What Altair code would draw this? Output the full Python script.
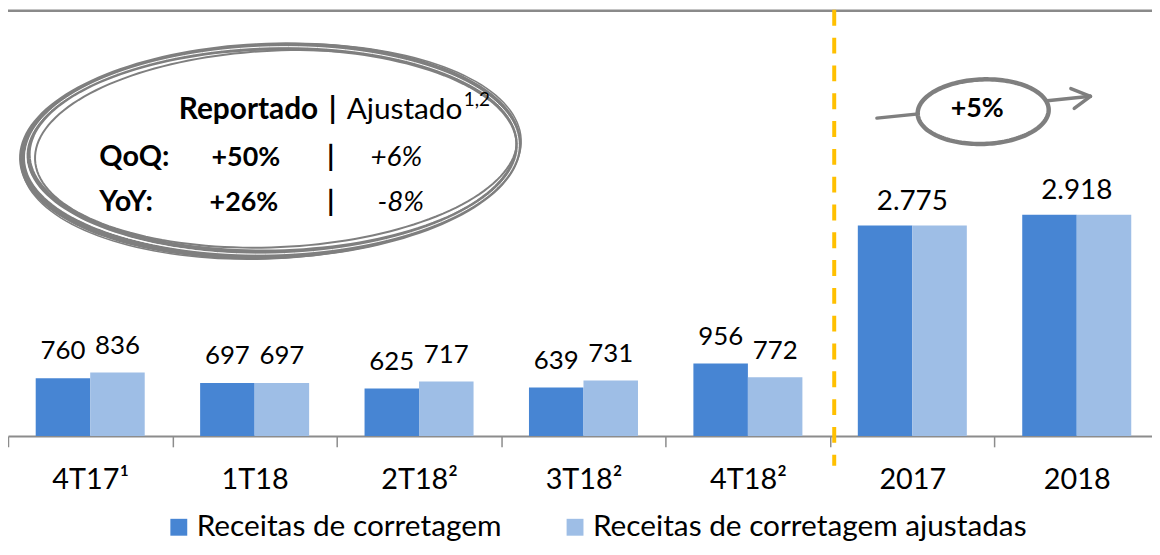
import math
import altair as alt
import pandas as pd

# ---------------- data ----------------
periods = ["4T17¹", "1T18", "2T18²", "3T18²", "4T18²", "2017", "2018"]
reported = [760, 697, 625, 639, 956, 2775, 2918]
adjusted = [836, 697, 717, 731, 772, 2775, 2918]
annual_periods = ["2017", "2018"]
series_names = ["Receitas de corretagem", "Receitas de corretagem ajustadas"]
series_colors = ["#4785D3", "#9EBEE6"]

FONT = "Lato"
W, H = 1152, 429
STEP = 1159 / len(periods)


def fmt(v):
    return f"{v:,}".replace(",", ".")


rows = []
for p, r, a in zip(periods, reported, adjusted):
    rows.append({"period": p, "series": series_names[0], "value": r, "label": fmt(r)})
    rows.append({"period": p, "series": series_names[1], "value": a, "label": fmt(a)})
df = pd.DataFrame(rows)
df_q = df[~df["period"].isin(annual_periods)]
df_a = df[(df["period"].isin(annual_periods)) & (df["series"] == series_names[0])]

one = pd.DataFrame({"k": [0]})

xenc = alt.X(
    "period:N",
    sort=periods,
    scale=alt.Scale(range=[0, 1159], paddingInner=0.337, paddingOuter=0.1685),
    axis=alt.Axis(
        title=None, labelAngle=0, ticks=True, tickSize=11,
        tickOffset=-STEP / 2, labelOffset=STEP / 2,
        tickColor="#8c8c8c", tickWidth=1.5, domainColor="#8c8c8c", domainWidth=2,
        labelFont=FONT, labelFontSize=29, labelColor="#000000",
        labelBaseline="alphabetic", labelPadding=42,
    ),
)
yenc = alt.Y("value:Q", scale=alt.Scale(domain=[0, 5620], nice=False), axis=None)
color = alt.Color(
    "series:N",
    scale=alt.Scale(domain=series_names, range=series_colors),
    legend=alt.Legend(
        title=None, orient="none", legendX=157, legendY=506, direction="horizontal",
        symbolType="square", symbolSize=289, symbolStrokeWidth=0, symbolOpacity=1,
        labelFont=FONT, labelFontSize=30, labelColor="#000000", labelOffset=3,
        columnPadding=59, padding=0, labelLimit=600,
    ),
)

bars = alt.Chart(df).mark_bar().encode(
    x=xenc, y=yenc,
    xOffset=alt.XOffset("series:N", sort=series_names),
    color=color,
)

qlabels = alt.Chart(df_q).mark_text(
    font=FONT, fontSize=26, baseline="alphabetic", dy=-19, color="#000000"
).encode(
    x=alt.X("period:N", sort=periods), y="value:Q",
    xOffset=alt.XOffset("series:N", sort=series_names), text="label:N",
)

alabels = alt.Chart(df_a).mark_text(
    font=FONT, fontSize=28, baseline="alphabetic", dy=-16, color="#000000"
).encode(x=alt.X("period:N", sort=periods), y="value:Q", text="label:N")


# ---------------- decorations ----------------
def ellipse_path(ratio, rot_deg, n=160):
    r = math.radians(rot_deg)
    pts = []
    for i in range(n):
        t = 2 * math.pi * i / n
        x, y = math.cos(t), ratio * math.sin(t)
        xr = x * math.cos(r) - y * math.sin(r)
        yr = x * math.sin(r) + y * math.cos(r)
        pts.append(f"{xr:.4f},{yr:.4f}")
    return "M" + " L".join(pts) + " Z"


def ellipse(cx, cy, rx, ry, rot, sw, col="#7f7f7f", fill=None):
    kw = dict(shape=ellipse_path(ry / rx, rot), size=(2 * rx) ** 2,
              stroke=col, strokeWidth=sw, opacity=1)
    if fill:
        kw.update(filled=True, fill=fill, fillOpacity=1)
    else:
        kw.update(filled=False)
    return alt.Chart(one).mark_point(**kw).encode(x=alt.value(cx), y=alt.value(cy))


def txt(s, x, y, size=26, weight="normal", style="normal", align="left", baseline="alphabetic"):
    return alt.Chart(one).mark_text(
        text=s, font=FONT, fontSize=size, fontWeight=weight, fontStyle=style,
        align=align, baseline=baseline, color="#000000",
    ).encode(x=alt.value(x), y=alt.value(y))


def seg(x1, y1, x2, y2, sw=3, col="#7f7f7f", dash=None):
    kw = dict(color=col, strokeWidth=sw, strokeCap="round")
    if dash:
        kw.update(strokeDash=dash, strokeCap="butt")
    return alt.Chart(one).mark_rule(**kw).encode(
        x=alt.value(x1), y=alt.value(y1), x2=alt.value(x2), y2=alt.value(y2))


top_line = seg(0, 1, W, 1, sw=2.5, col="#8a8a8a")
divider = seg(832, 0, 832, 459, sw=4, col="#FFC000", dash=[16, 12])

big_ellipse = [
    ellipse(264, 142, 250, 106, -2, 6),
    ellipse(267, 141, 246.5, 102.5, -1.2, 4.5),
    ellipse(270, 140, 243, 99, -2.6, 2),
    ellipse(265, 142.5, 252, 108, -2.8, 1.5),
    ellipse(266, 141.5, 248, 104.3, -1.6, 1, col="#ffffff"),
]

ann_text = [
    txt("Reportado", 172, 110, size=30, weight="bold"),
    txt("|", 327, 110, size=30, weight="bold", align="center"),
    txt("Ajustado", 341, 110, size=30),
    txt("1,2", 459, 97, size=19),
    txt("QoQ:", 92, 157.5, size=29, weight="bold"),
    txt("+50%", 205, 157.5, size=27, weight="bold"),
    txt("|", 325, 157.5, size=29, weight="bold", align="center"),
    txt("+6%", 365, 157.5, size=28, style="italic"),
    txt("YoY:", 92, 202.7, size=29, weight="bold"),
    txt("+26%", 203, 202.7, size=27, weight="bold"),
    txt("|", 325, 202.7, size=29, weight="bold", align="center"),
    txt("-8%", 372, 202.7, size=28, style="italic"),
]

arrow = [
    seg(875, 109, 1090, 87, sw=3.5),
    ellipse(982, 102.5, 66, 32.5, -2, 4.5, fill="#ffffff"),
    seg(1070.3, 79.3, 1090, 87, sw=3.5),
    seg(1073.7, 99.3, 1090, 87, sw=3.5),
    txt("+5%", 976, 100, size=27, weight="bold", align="center", baseline="middle"),
]

chart = alt.layer(
    bars, qlabels, alabels, top_line, *big_ellipse, *ann_text, *arrow, divider
).properties(
    width=W, height=H,
    padding={"left": 0, "top": 0, "right": 0, "bottom": 110},
    autosize=alt.AutoSizeParams(type="none"),
    background="#ffffff",
).configure_view(stroke=None)

chart.save("out.html", embed_options={"renderer": "svg", "actions": False})
